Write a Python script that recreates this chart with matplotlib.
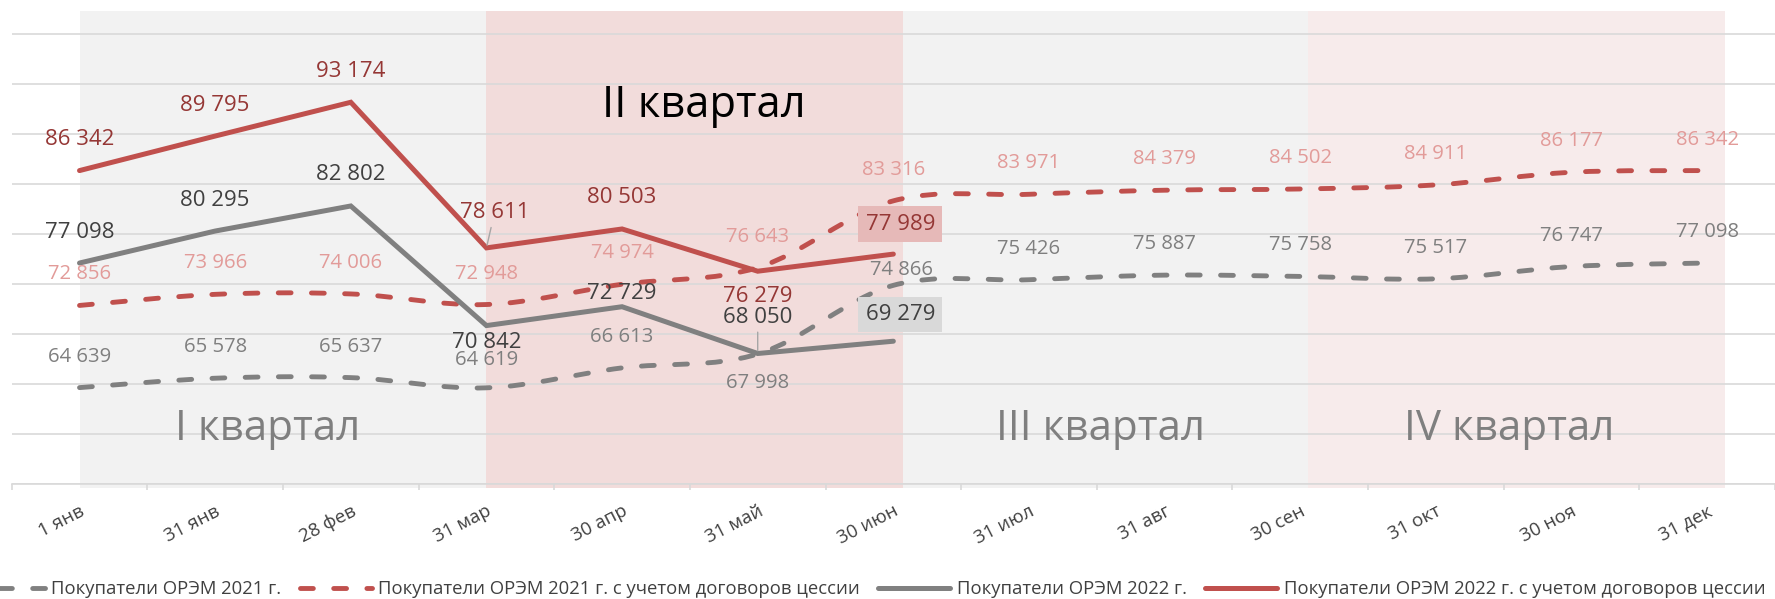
import matplotlib
matplotlib.use("Agg")
import matplotlib.pyplot as plt
from matplotlib.path import Path
from matplotlib.patches import PathPatch
from matplotlib.lines import Line2D
import numpy as np

plt.rcParams['font.family'] = ['Open Sans', 'DejaVu Sans']

# ---------------- data ----------------
categories = ["1 янв", "31 янв", "28 фев", "31 мар", "30 апр", "31 май", "30 июн",
              "31 июл", "31 авг", "30 сен", "31 окт", "30 ноя", "31 дек"]
buyers_2021 = [64639, 65578, 65637, 64619, 66613, 67998, 74866,
               75426, 75887, 75758, 75517, 76747, 77098]
buyers_2021_cession = [72856, 73966, 74006, 72948, 74974, 76643, 83316,
                       83971, 84379, 84502, 84911, 86177, 86342]
buyers_2022 = [77098, 80295, 82802, 70842, 72729, 68050, 69279]
buyers_2022_cession = [86342, 89795, 93174, 78611, 80503, 76279, 77989]
series_names = ["Покупатели ОРЭМ 2021 г.",
                "Покупатели ОРЭМ 2021 г. с учетом договоров цессии",
                "Покупатели ОРЭМ 2022 г.",
                "Покупатели ОРЭМ 2022 г. с учетом договоров цессии"]
quarter_names = ["I квартал", "II квартал", "III квартал", "IV квартал"]

# ---------------- style ----------------
RED = "#C0504D"
GRAY = "#808080"
GRID = "#D9D9D9"
quarter_edges = [0.0, 3.0, 6.07, 9.06, 12.13]
quarter_colors = ["#F2F2F2", "#F2DCDB", "#F2F2F2", "#F7EBEB"]
quarter_text_colors = ["#7F7F7F", "#000000", "#7F7F7F", "#7F7F7F"]
quarter_text_sizes = [30.3, 31.3, 30.3, 30.3]
quarter_text_pos = [(1.39, 59400), (4.60, 91700), (7.53, 59400), (10.54, 59400)]

W, H = 1775, 599
fig = plt.figure(figsize=(W / 100, H / 100), dpi=100)
ax_left, ax_right = 11.7 / W, 1.0
ax_bottom, ax_top = 1 - 484 / H, 1 - 10.7 / H
ax = fig.add_axes([ax_left, ax_bottom, ax_right - ax_left, ax_top - ax_bottom])

ymin, ymax = 55000, 102330
ax.set_ylim(ymin, ymax)
ax.set_xlim(-0.5, -0.5 + (W - 11.7) / 136.3)

# quarter shading
for i in range(4):
    ax.axvspan(quarter_edges[i], quarter_edges[i + 1], ymin=-0.009, ymax=1.0,
               color=quarter_colors[i], lw=0, zorder=0.1, clip_on=False)

# grid
ax.set_axisbelow(True)
ax.set_yticks(np.arange(55000, 100001, 5000))
ax.yaxis.grid(True, color=GRID, lw=1.2)
ax.tick_params(axis='y', left=False, labelleft=False)
for s in ["left", "right", "top"]:
    ax.spines[s].set_visible(False)
ax.spines["bottom"].set_color(GRID)
ax.spines["bottom"].set_linewidth(1.2)
ax.spines["bottom"].set_zorder(0.5)

x_all = np.arange(len(categories))
ax.set_xticks(x_all)
ax.set_xticklabels(categories, rotation=27, ha='right', rotation_mode='anchor',
                   fontsize=13.5, color="#404040")
ax.tick_params(axis='x', which='major', length=0, pad=13)
ax.set_xticks(np.arange(-0.5, len(categories) + 0.5, 1.0), minor=True)
ax.tick_params(axis='x', which='minor', length=4.5, color=GRID, width=1.2)


def smooth_path(xs, ys):
    pts = np.column_stack([xs, ys]).astype(float)
    n = len(pts)
    verts = [pts[0]]
    codes = [Path.MOVETO]
    for i in range(n - 1):
        p0 = pts[i - 1] if i > 0 else pts[i]
        p1 = pts[i]
        p2 = pts[i + 1]
        p3 = pts[i + 2] if i + 2 < n else pts[i + 1]
        c1 = p1 + (p2 - p0) / 6.0
        c2 = p2 - (p3 - p1) / 6.0
        verts += [c1, c2, p2]
        codes += [Path.CURVE4] * 3
    return Path(verts, codes)


DASH_LW = 3.5
DASH = (0, (2.64, 4.19))
for vals, col in [(buyers_2021, GRAY), (buyers_2021_cession, RED)]:
    p = smooth_path(x_all, vals)
    patch = PathPatch(p, fill=False, edgecolor=col, lw=DASH_LW, linestyle=DASH,
                      capstyle='round', zorder=3)
    ax.add_patch(patch)

x22 = np.arange(len(buyers_2022))
ax.plot(x22, buyers_2022, color=GRAY, lw=3.6, solid_capstyle='round',
        solid_joinstyle='miter', zorder=4)
ax.plot(x22, buyers_2022_cession, color=RED, lw=3.6, solid_capstyle='round',
        solid_joinstyle='miter', zorder=4)

# quarter texts
for name, (qx, qy), c, fs in zip(quarter_names, quarter_text_pos, quarter_text_colors,
                                 quarter_text_sizes):
    ax.text(qx, qy, name, ha='center', va='baseline', fontsize=fs, color=c, zorder=2)

# data labels
def fmt(v):
    return f"{v:,}".replace(",", " ")

label_specs = [
    (buyers_2021, "#7F7F7F", 14.6, {3: (0, 28), 5: (0, -29), 6: (8, 15)}),
    (buyers_2021_cession, "#E29B99", 14.6, {}),
    (buyers_2022, "#404040", 16.0, {3: (0, -17), 4: (0, 13), 5: (0, 36), 6: (7, 27)}),
    (buyers_2022_cession, "#953735", 16.0, {3: (8, 35), 5: (0, -25), 6: (7, 30)}),
]
leaders = {(2, 5), (3, 3)}
boxes = {(2, 6): "#D9D9D9", (3, 6): "#E6B9B8"}

for si, (vals, col, fs, exc) in enumerate(label_specs):
    for i, v in enumerate(vals):
        dx, dy = exc.get(i, (0, 31))
        kw = {}
        if (si, i) in boxes:
            kw['bbox'] = dict(boxstyle='square,pad=0.32', fc=boxes[(si, i)], ec='none')
        if (si, i) in leaders:
            kw['arrowprops'] = dict(arrowstyle='-', color="#A6A6A6", lw=1.0,
                                    shrinkA=1, shrinkB=2)
        ax.annotate(fmt(v), xy=(i, v), xytext=(dx, dy), textcoords='offset pixels',
                    ha='center', va='center', fontsize=fs, color=col, zorder=6, **kw)

# legend
handles = [
    Line2D([], [], color=GRAY, lw=DASH_LW, linestyle=DASH, dash_capstyle='round'),
    Line2D([], [], color=RED, lw=DASH_LW, linestyle=DASH, dash_capstyle='round'),
    Line2D([], [], color=GRAY, lw=3.6, solid_capstyle='round'),
    Line2D([], [], color=RED, lw=3.6, solid_capstyle='round'),
]
leg = fig.legend(handles, series_names, loc='center', bbox_to_anchor=(869 / W, 1 - 589 / H),
                 ncol=4, frameon=False, fontsize=13.3, handlelength=3.9,
                 handletextpad=0.35, columnspacing=1.0, borderpad=0, borderaxespad=0)
for t in leg.get_texts():
    t.set_color("#404040")

fig.savefig("out.png", dpi=100)
